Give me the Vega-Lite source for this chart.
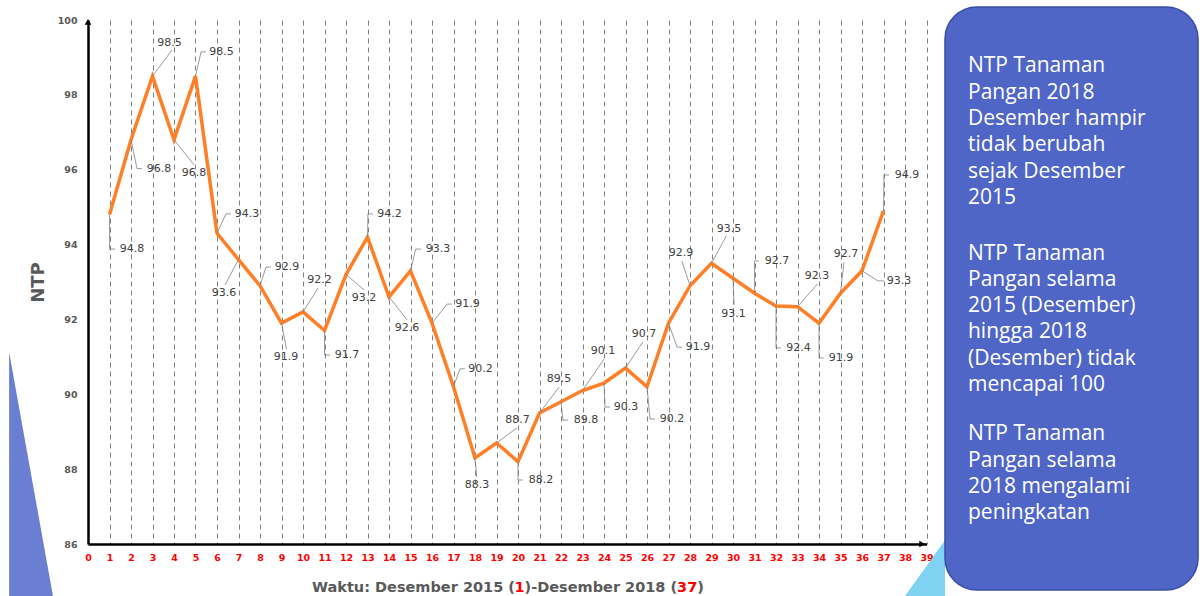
{
  "$schema": "https://vega.github.io/schema/vega-lite/v6.json",
  "width": 838.5,
  "height": 524,
  "autosize": {"type": "none"},
  "padding": {"left": 88, "top": 20, "right": 276.5, "bottom": 52},
  "background": "white",
  "config": {"view": {"stroke": null}, "font": "DejaVu Sans"},
  "resolve": {"axis": {"x": "independent", "y": "independent"}},
  "datasets": {
    "ntp": [
      {"t": 1, "ntp": 94.8}, {"t": 2, "ntp": 96.8}, {"t": 3, "ntp": 98.5}, {"t": 4, "ntp": 96.8},
      {"t": 5, "ntp": 98.5}, {"t": 6, "ntp": 94.3}, {"t": 7, "ntp": 93.6}, {"t": 8, "ntp": 92.9},
      {"t": 9, "ntp": 91.9}, {"t": 10, "ntp": 92.2}, {"t": 11, "ntp": 91.7}, {"t": 12, "ntp": 93.2},
      {"t": 13, "ntp": 94.2}, {"t": 14, "ntp": 92.6}, {"t": 15, "ntp": 93.3}, {"t": 16, "ntp": 91.9},
      {"t": 17, "ntp": 90.2}, {"t": 18, "ntp": 88.3}, {"t": 19, "ntp": 88.7}, {"t": 20, "ntp": 88.2},
      {"t": 21, "ntp": 89.5}, {"t": 22, "ntp": 89.8}, {"t": 23, "ntp": 90.1}, {"t": 24, "ntp": 90.3},
      {"t": 25, "ntp": 90.7}, {"t": 26, "ntp": 90.2}, {"t": 27, "ntp": 91.9}, {"t": 28, "ntp": 92.9},
      {"t": 29, "ntp": 93.5}, {"t": 30, "ntp": 93.1}, {"t": 31, "ntp": 92.7}, {"t": 32, "ntp": 92.36},
      {"t": 33, "ntp": 92.34}, {"t": 34, "ntp": 91.9}, {"t": 35, "ntp": 92.7}, {"t": 36, "ntp": 93.3},
      {"t": 37, "ntp": 94.9}
    ],
    "labels": [
      {"t": 1, "ntp": 94.8, "lx": 2.05, "ly": 93.88, "ex": 1.0, "ey": 93.88, "tx": 1.26, "ty": 93.88},
      {"t": 2, "ntp": 96.8, "lx": 3.3, "ly": 96.03, "ex": 2.28, "ey": 96.03, "tx": 2.51, "ty": 96.03},
      {"t": 3, "ntp": 98.5, "lx": 3.79, "ly": 99.39, "ex": 3.91, "ey": 99.2, "tx": 3.91, "ty": 99.2},
      {"t": 4, "ntp": 96.8, "lx": 4.93, "ly": 95.91, "ex": 4.93, "ey": 96.13, "tx": 4.93, "ty": 96.13},
      {"t": 5, "ntp": 98.5, "lx": 6.21, "ly": 99.15, "ex": 5.26, "ey": 99.15, "tx": 5.49, "ty": 99.15},
      {"t": 6, "ntp": 94.3, "lx": 7.4, "ly": 94.82, "ex": 6.42, "ey": 94.82, "tx": 6.65, "ty": 94.82},
      {"t": 7, "ntp": 93.6, "lx": 6.33, "ly": 92.71, "ex": 6.37, "ey": 92.92, "tx": 6.37, "ty": 92.92},
      {"t": 8, "ntp": 92.9, "lx": 9.26, "ly": 93.4, "ex": 8.28, "ey": 93.4, "tx": 8.51, "ty": 93.4},
      {"t": 9, "ntp": 91.9, "lx": 9.21, "ly": 91.0, "ex": 9.23, "ey": 91.21, "tx": 9.23, "ty": 91.21},
      {"t": 10, "ntp": 92.2, "lx": 10.77, "ly": 93.05, "ex": 10.7, "ey": 92.84, "tx": 10.7, "ty": 92.84},
      {"t": 11, "ntp": 91.7, "lx": 12.05, "ly": 91.05, "ex": 11.0, "ey": 91.05, "tx": 11.26, "ty": 91.05},
      {"t": 12, "ntp": 93.2, "lx": 12.84, "ly": 92.57, "ex": 12.84, "ey": 92.79, "tx": 12.84, "ty": 92.79},
      {"t": 13, "ntp": 94.2, "lx": 14.02, "ly": 94.82, "ex": 13.02, "ey": 94.82, "tx": 13.26, "ty": 94.82},
      {"t": 14, "ntp": 92.6, "lx": 14.84, "ly": 91.77, "ex": 14.84, "ey": 91.99, "tx": 14.84, "ty": 91.99},
      {"t": 15, "ntp": 93.3, "lx": 16.28, "ly": 93.88, "ex": 15.24, "ey": 93.88, "tx": 15.49, "ty": 93.88},
      {"t": 16, "ntp": 91.9, "lx": 17.65, "ly": 92.41, "ex": 16.7, "ey": 92.41, "tx": 16.93, "ty": 92.41},
      {"t": 17, "ntp": 90.2, "lx": 18.26, "ly": 90.68, "ex": 17.3, "ey": 90.68, "tx": 17.53, "ty": 90.68},
      {"t": 18, "ntp": 88.3, "lx": 18.09, "ly": 87.58, "ex": 18.08, "ey": 87.79, "tx": 18.08, "ty": 87.79},
      {"t": 19, "ntp": 88.7, "lx": 19.98, "ly": 89.31, "ex": 19.95, "ey": 89.1, "tx": 19.95, "ty": 89.1},
      {"t": 20, "ntp": 88.2, "lx": 21.07, "ly": 87.71, "ex": 20.0, "ey": 87.71, "tx": 20.23, "ty": 87.71},
      {"t": 21, "ntp": 89.5, "lx": 21.91, "ly": 90.41, "ex": 21.91, "ey": 90.19, "tx": 21.91, "ty": 90.19},
      {"t": 22, "ntp": 89.8, "lx": 23.16, "ly": 89.31, "ex": 22.09, "ey": 89.31, "tx": 22.33, "ty": 89.31},
      {"t": 23, "ntp": 90.1, "lx": 23.95, "ly": 91.16, "ex": 24.0, "ey": 90.94, "tx": 24.0, "ty": 90.94},
      {"t": 24, "ntp": 90.3, "lx": 25.02, "ly": 89.66, "ex": 24.05, "ey": 89.66, "tx": 24.28, "ty": 89.66},
      {"t": 25, "ntp": 90.7, "lx": 25.86, "ly": 91.61, "ex": 25.81, "ey": 91.4, "tx": 25.81, "ty": 91.4},
      {"t": 26, "ntp": 90.2, "lx": 27.16, "ly": 89.34, "ex": 26.14, "ey": 89.34, "tx": 26.37, "ty": 89.34},
      {"t": 27, "ntp": 91.9, "lx": 28.37, "ly": 91.26, "ex": 27.4, "ey": 91.26, "tx": 27.63, "ty": 91.26},
      {"t": 28, "ntp": 92.9, "lx": 27.58, "ly": 93.78, "ex": 27.62, "ey": 93.56, "tx": 27.62, "ty": 93.56},
      {"t": 29, "ntp": 93.5, "lx": 29.81, "ly": 94.42, "ex": 29.69, "ey": 94.23, "tx": 29.69, "ty": 94.23},
      {"t": 30, "ntp": 93.1, "lx": 30.02, "ly": 92.15, "ex": 30.05, "ey": 92.39, "tx": 30.05, "ty": 92.39},
      {"t": 31, "ntp": 92.7, "lx": 32.05, "ly": 93.56, "ex": 31.0, "ey": 93.56, "tx": 31.21, "ty": 93.56},
      {"t": 32, "ntp": 92.36, "lx": 33.05, "ly": 91.24, "ex": 32.0, "ey": 91.24, "tx": 32.23, "ty": 91.24},
      {"t": 33, "ntp": 92.34, "lx": 33.91, "ly": 93.16, "ex": 33.93, "ey": 92.95, "tx": 33.93, "ty": 92.95},
      {"t": 34, "ntp": 91.9, "lx": 35.02, "ly": 90.97, "ex": 34.0, "ey": 90.97, "tx": 34.23, "ty": 90.97},
      {"t": 35, "ntp": 92.7, "lx": 35.26, "ly": 93.75, "ex": 35.16, "ey": 93.53, "tx": 35.16, "ty": 93.53},
      {"t": 36, "ntp": 93.3, "lx": 37.72, "ly": 93.03, "ex": 36.74, "ey": 93.03, "tx": 37.02, "ty": 93.03},
      {"t": 37, "ntp": 94.9, "lx": 38.09, "ly": 95.86, "ex": 37.02, "ey": 95.86, "tx": 37.26, "ty": 95.86}
    ],
    "titleParts": [
      {"part": "Waktu: Desember 2015 (", "px": 10.42, "hl": "n"},
      {"part": "1", "px": 19.837, "hl": "y"},
      {"part": ")-Desember 2018 (", "px": 20.307, "hl": "n"},
      {"part": "37", "px": 27.4, "hl": "y"},
      {"part": ")", "px": 28.34, "hl": "n"}
    ],
    "note": [
      {"para": 1, "text": "NTP Tanaman\nPangan 2018\nDesember hampir\ntidak berubah\nsejak Desember\n2015"},
      {"para": 2, "text": "NTP Tanaman\nPangan selama\n2015 (Desember)\nhingga 2018\n(Desember) tidak\nmencapai 100"},
      {"para": 3, "text": "NTP Tanaman\nPangan selama\n2018 mengalami\npeningkatan"}
    ]
  },
  "layer": [
    {
      "data": {"values": [{"x": -3.67, "y": 91.13, "y2": 84.61}, {"x": -1.63, "y": 84.61, "y2": 84.61}]},
      "mark": {"type": "area", "color": "#6a7fd2", "opacity": 1},
      "encoding": {
        "x": {"field": "x", "type": "quantitative", "scale": {"domain": [0, 39], "nice": false, "zero": false}, "axis": null},
        "y": {"field": "y", "type": "quantitative", "scale": {"domain": [86, 100], "nice": false, "zero": false}, "axis": null},
        "y2": {"field": "y2"}
      }
    },
    {
      "data": {"values": [{"x": 38.0, "y": 84.61, "y2": 84.61}, {"x": 39.86, "y": 86.1, "y2": 84.61}]},
      "mark": {"type": "area", "color": "#80d2f2", "opacity": 1},
      "encoding": {
        "x": {"field": "x", "type": "quantitative", "scale": {"domain": [0, 39], "nice": false, "zero": false}, "axis": null},
        "y": {"field": "y", "type": "quantitative", "scale": {"domain": [86, 100], "nice": false, "zero": false}, "axis": null},
        "y2": {"field": "y2"}
      }
    },
    {
      "data": {"name": "ntp"},
      "mark": {"type": "line", "color": "#ff7f27", "strokeWidth": 3.5, "strokeJoin": "miter"},
      "encoding": {
        "x": {
          "field": "t", "type": "quantitative",
          "scale": {"domain": [0, 39], "nice": false, "zero": false},
          "axis": {
            "values": [0,1,2,3,4,5,6,7,8,9,10,11,12,13,14,15,16,17,18,19,20,21,22,23,24,25,26,27,28,29,30,31,32,33,34,35,36,37,38,39],
            "title": null, "grid": true, "gridColor": "#7f7f7f", "gridDash": [5, 4], "gridWidth": 1,
            "domainColor": "#000000", "domainWidth": 2.5, "ticks": false,
            "labelColor": "#ff0000", "labelFont": "DejaVu Sans", "labelFontWeight": "bold", "labelFontSize": 9.5,
            "labelPadding": 8, "labelFlush": false, "labelOverlap": false
          }
        },
        "y": {
          "field": "ntp", "type": "quantitative",
          "scale": {"domain": [86, 100], "nice": false, "zero": false},
          "axis": {
            "values": [86, 88, 90, 92, 94, 96, 98, 100],
            "title": "NTP", "grid": false, "domainColor": "#000000", "domainWidth": 2.5, "ticks": false,
            "labelColor": "#595959", "labelFont": "DejaVu Sans", "labelFontWeight": "bold", "labelFontSize": 9.5,
            "labelPadding": 11, "labelFlush": false,
            "titleFont": "DejaVu Sans", "titleFontSize": 18, "titleFontWeight": "bold", "titleColor": "#595959", "titlePadding": 10
          }
        }
      }
    },
    {
      "data": {"name": "labels"},
      "mark": {"type": "rule", "color": "#808080", "strokeWidth": 0.8},
      "encoding": {
        "x": {"field": "t", "type": "quantitative", "scale": {"domain": [0, 39], "nice": false, "zero": false}, "axis": null},
        "y": {"field": "ntp", "type": "quantitative", "scale": {"domain": [86, 100], "nice": false, "zero": false}, "axis": null},
        "x2": {"field": "ex"},
        "y2": {"field": "ey"}
      }
    },
    {
      "data": {"name": "labels"},
      "mark": {"type": "rule", "color": "#808080", "strokeWidth": 0.8},
      "encoding": {
        "x": {"field": "ex", "type": "quantitative", "scale": {"domain": [0, 39], "nice": false, "zero": false}, "axis": null},
        "y": {"field": "ey", "type": "quantitative", "scale": {"domain": [86, 100], "nice": false, "zero": false}, "axis": null},
        "x2": {"field": "tx"},
        "y2": {"field": "ty"}
      }
    },
    {
      "data": {"name": "labels"},
      "mark": {"type": "text", "font": "DejaVu Sans", "fontSize": 11, "color": "#404040", "align": "center", "baseline": "middle"},
      "encoding": {
        "x": {"field": "lx", "type": "quantitative", "scale": {"domain": [0, 39], "nice": false, "zero": false}, "axis": null},
        "y": {"field": "ly", "type": "quantitative", "scale": {"domain": [86, 100], "nice": false, "zero": false}, "axis": null},
        "text": {"field": "ntp", "type": "quantitative", "format": ".1f"}
      }
    },
    {
      "data": {"values": [{}]},
      "mark": {"type": "point", "shape": "triangle-up", "size": 45, "filled": true, "color": "#000000", "opacity": 1},
      "encoding": {
        "x": {"datum": 0, "type": "quantitative", "scale": {"domain": [0, 39], "nice": false, "zero": false}, "axis": null},
        "y": {"datum": 99.95, "type": "quantitative", "scale": {"domain": [86, 100], "nice": false, "zero": false}, "axis": null}
      }
    },
    {
      "data": {"values": [{}]},
      "mark": {"type": "point", "shape": "triangle-right", "size": 45, "filled": true, "color": "#000000", "opacity": 1},
      "encoding": {
        "x": {"datum": 38.8, "type": "quantitative", "scale": {"domain": [0, 39], "nice": false, "zero": false}, "axis": null},
        "y": {"datum": 86, "type": "quantitative", "scale": {"domain": [86, 100], "nice": false, "zero": false}, "axis": null}
      }
    },
    {
      "data": {"name": "titleParts"},
      "mark": {"type": "text", "font": "DejaVu Sans", "fontWeight": "bold", "fontSize": 14.5, "align": "left", "baseline": "middle"},
      "encoding": {
        "x": {"field": "px", "type": "quantitative", "scale": {"domain": [0, 39], "nice": false, "zero": false}, "axis": null},
        "y": {"datum": 84.83, "type": "quantitative", "scale": {"domain": [86, 100], "nice": false, "zero": false}, "axis": null},
        "text": {"field": "part", "type": "nominal"},
        "color": {"field": "hl", "type": "nominal", "scale": {"domain": ["n", "y"], "range": ["#595959", "#ff0000"]}, "legend": null}
      }
    },
    {
      "data": {"values": [{}]},
      "mark": {"type": "rect", "color": "#4f66c7", "stroke": "#3a4ea6", "strokeWidth": 1.5, "cornerRadius": 32},
      "encoding": {
        "x": {"datum": 39.86, "type": "quantitative", "scale": {"domain": [0, 39], "nice": false, "zero": false}, "axis": null},
        "x2": {"datum": 51.63},
        "y": {"datum": 100.35, "type": "quantitative", "scale": {"domain": [86, 100], "nice": false, "zero": false}, "axis": null},
        "y2": {"datum": 84.77}
      }
    },
    {
      "data": {"name": "note"},
      "transform": [{"filter": "datum.para == 1"}],
      "mark": {"type": "text", "font": "Open Sans", "fontSize": 21, "color": "#ffffff", "align": "left", "baseline": "alphabetic", "lineBreak": "\n", "lineHeight": 26.3},
      "encoding": {
        "x": {"datum": 40.93, "type": "quantitative", "scale": {"domain": [0, 39], "nice": false, "zero": false}, "axis": null},
        "y": {"datum": 98.6, "type": "quantitative", "scale": {"domain": [86, 100], "nice": false, "zero": false}, "axis": null},
        "text": {"field": "text", "type": "nominal"}
      }
    },
    {
      "data": {"name": "note"},
      "transform": [{"filter": "datum.para == 2"}],
      "mark": {"type": "text", "font": "Open Sans", "fontSize": 21, "color": "#ffffff", "align": "left", "baseline": "alphabetic", "lineBreak": "\n", "lineHeight": 26.3},
      "encoding": {
        "x": {"datum": 40.93, "type": "quantitative", "scale": {"domain": [0, 39], "nice": false, "zero": false}, "axis": null},
        "y": {"datum": 93.6, "type": "quantitative", "scale": {"domain": [86, 100], "nice": false, "zero": false}, "axis": null},
        "text": {"field": "text", "type": "nominal"}
      }
    },
    {
      "data": {"name": "note"},
      "transform": [{"filter": "datum.para == 3"}],
      "mark": {"type": "text", "font": "Open Sans", "fontSize": 21, "color": "#ffffff", "align": "left", "baseline": "alphabetic", "lineBreak": "\n", "lineHeight": 26.3},
      "encoding": {
        "x": {"datum": 40.93, "type": "quantitative", "scale": {"domain": [0, 39], "nice": false, "zero": false}, "axis": null},
        "y": {"datum": 88.77, "type": "quantitative", "scale": {"domain": [86, 100], "nice": false, "zero": false}, "axis": null},
        "text": {"field": "text", "type": "nominal"}
      }
    }
  ]
}
